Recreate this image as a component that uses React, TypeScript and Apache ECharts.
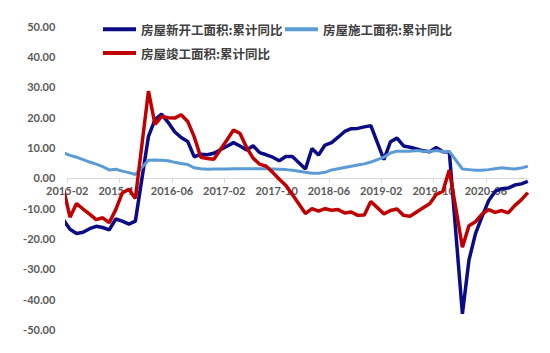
import React, { useEffect, useRef } from "react";
import * as echarts from "echarts";

// Months with data (Jan is reported together with Feb, so it is absent); 2014-12 sits just left of the axis start and is clipped
const months = [
  "2014-12",
  "2015-02","2015-03","2015-04","2015-05","2015-06","2015-07","2015-08","2015-09","2015-10","2015-11","2015-12",
  "2016-02","2016-03","2016-04","2016-05","2016-06","2016-07","2016-08","2016-09","2016-10","2016-11","2016-12",
  "2017-02","2017-03","2017-04","2017-05","2017-06","2017-07","2017-08","2017-09","2017-10","2017-11","2017-12",
  "2018-02","2018-03","2018-04","2018-05","2018-06","2018-07","2018-08","2018-09","2018-10","2018-11","2018-12",
  "2019-02","2019-03","2019-04","2019-05","2019-06","2019-07","2019-08","2019-09","2019-10","2019-11","2019-12",
  "2020-02","2020-03","2020-04","2020-05","2020-06","2020-07","2020-08","2020-09","2020-10","2020-11","2020-12",
];

const newStarts = [
  -10.7,
  -17.0, -18.4, -18.0, -16.8, -16.0, -16.4, -17.2, -13.6, -14.3, -15.3, -14.3,
  13.7, 19.2, 21.0, 18.3, 15.2, 13.3, 12.0, 6.9, 7.8, 7.6, 8.1,
  10.4, 11.6, 10.5, 9.2, 10.6, 8.3, 7.6, 6.8, 5.6, 7.0, 7.0,
  2.9, 9.7, 7.5, 10.8, 11.6, 13.4, 15.3, 16.2, 16.3, 16.8, 17.2,
  6.0, 11.9, 13.1, 10.5, 10.1, 9.5, 8.9, 8.6, 10.0, 8.6, 8.5,
  -44.9, -27.2, -18.4, -12.8, -7.6, -4.5, -3.6, -3.4, -2.4, -2.0, -1.2,
];

const underConstruction = [
  9.2,
  7.4, 6.8, 6.0, 5.2, 4.5, 3.7, 2.6, 2.8, 2.2, 1.7, 1.1,
  5.8, 5.9, 5.8, 5.6, 5.1, 4.7, 4.4, 3.3, 3.0, 2.8, 2.9,
  2.9, 3.0, 3.0, 3.0, 3.0, 3.0, 3.0, 2.9, 2.8, 2.7, 2.5,
  1.8, 1.5, 1.5, 1.8, 2.6, 3.0, 3.4, 3.8, 4.2, 4.6, 5.2,
  6.8, 8.2, 8.8, 8.8, 8.8, 9.0, 8.8, 8.7, 9.0, 8.7, 8.7,
  2.9, 2.7, 2.5, 2.5, 2.7, 3.0, 3.3, 3.1, 2.9, 3.2, 3.8,
];

const completed = [
  5.9,
  -13.0, -8.5, -10.3, -12.0, -13.8, -13.2, -14.8, -10.5, -5.0, -3.8, -6.8,
  28.6, 17.6, 20.2, 19.8, 19.7, 20.8, 18.6, 13.5, 6.8, 6.4, 6.1,
  12.5, 15.8, 14.6, 10.0, 6.5, 4.5, 3.8, 1.8, -0.5, -2.5, -5.5,
  -11.8, -10.2, -11.0, -10.2, -10.7, -10.5, -11.6, -11.3, -12.4, -12.3, -7.8,
  -11.9, -10.8, -10.3, -12.4, -12.7, -11.3, -9.9, -8.6, -5.5, -4.5, 2.6,
  -22.9, -15.8, -14.5, -12.0, -10.5, -11.4, -10.8, -11.6, -9.2, -7.3, -4.9,
];

const tickLabels = ["2015-02","2015-10","2016-06","2017-02","2017-10","2018-06","2019-02","2019-10","2020-06"];

const NAME_NEW = "房屋新开工面积:累计同比";
const NAME_CON = "房屋施工面积:累计同比";
const NAME_DONE = "房屋竣工面积:累计同比";

// month index relative to axis start (2015-02)
const monthPos = (s: string) => {
  const [y, m] = s.split("-").map(Number);
  return (y - 2015) * 12 + (m - 2);
};
const POINT_OFFSET = 0.41; // data points sit a little right of the month tick
const tickPos = tickLabels.map(monthPos);
const pairs = (vals: number[]) => months.map((m, i) => [monthPos(m) + POINT_OFFSET, vals[i]]);

const GRID_TOP = 26.3;
const GRID_HEIGHT = 303;
const Y_MIN = -50;
const Y_MAX = 50;

export default function App() {
  const ref = useRef<HTMLDivElement>(null);
  useEffect(() => {
    if (!ref.current) return;
    const chart = echarts.init(ref.current, undefined, { renderer: "svg" });
    const axisFont = {
      color: "#595959",
      fontWeight: "bold" as const,
      fontSize: 11,
      fontFamily: "Lato, 'Open Sans', sans-serif",
    };
    const legendText = {
      color: "#404040",
      fontWeight: "bold" as const,
      fontSize: 12.5,
      fontFamily: "'Noto Sans CJK SC', sans-serif",
    };
    const legendBase = {
      icon: "rect",
      itemWidth: 33,
      itemHeight: 4,
      padding: 0,
      textStyle: legendText,
      selectedMode: false,
    };
    // move the x axis (line, ticks, labels) from the grid bottom up to y = 0
    const zeroOffset = -GRID_HEIGHT * (0 - Y_MIN) / (Y_MAX - Y_MIN);
    chart.setOption({
      animation: false,
      backgroundColor: "#ffffff",
      grid: { left: 67.3, right: 21.6, top: GRID_TOP, height: GRID_HEIGHT },
      legend: [
        { ...legendBase, left: 103, top: 23, data: [NAME_NEW] },
        { ...legendBase, left: 285, top: 23, data: [NAME_CON] },
        { ...legendBase, left: 103, top: 46.8, data: [NAME_DONE] },
      ],
      xAxis: {
        type: "value",
        min: 0,
        max: 70.5,
        position: "bottom",
        offset: zeroOffset,
        axisLine: { onZero: false, lineStyle: { color: "#d9d9d9", width: 1 } },
        axisTick: { show: true, length: 5, lineStyle: { color: "#d9d9d9" }, customValues: tickPos },
        axisLabel: {
          ...axisFont,
          margin: 7,
          customValues: tickPos,
          formatter: (v: number) => {
            const idx = tickPos.findIndex((p) => Math.abs(p - v) < 1e-6);
            return idx >= 0 ? tickLabels[idx] : "";
          },
        },
        splitLine: { show: false },
      },
      yAxis: {
        type: "value",
        min: Y_MIN,
        max: Y_MAX,
        interval: 10,
        axisLine: { show: false },
        axisTick: { show: false },
        splitLine: { show: false },
        axisLabel: { ...axisFont, margin: 12, formatter: (v: number) => v.toFixed(2) },
      },
      series: [
        {
          name: NAME_NEW,
          type: "line",
          data: pairs(newStarts),
          showSymbol: false,
          symbol: "none",
          clip: true,
          color: "#0b0b86",
          lineStyle: { width: 3.5, color: "#0b0b86" },
        },
        {
          name: NAME_CON,
          type: "line",
          data: pairs(underConstruction),
          showSymbol: false,
          symbol: "none",
          clip: true,
          color: "#5b9bd5",
          lineStyle: { width: 3, color: "#5b9bd5" },
        },
        {
          name: NAME_DONE,
          type: "line",
          data: pairs(completed),
          showSymbol: false,
          symbol: "none",
          clip: true,
          color: "#c00000",
          lineStyle: { width: 3.5, color: "#c00000" },
        },
      ],
    });
    return () => chart.dispose();
  }, []);
  return (
    <div
      ref={ref}
      style={{ position: "fixed", left: 0, top: 0, width: 550, height: 353, background: "#fff" }}
    />
  );
}
